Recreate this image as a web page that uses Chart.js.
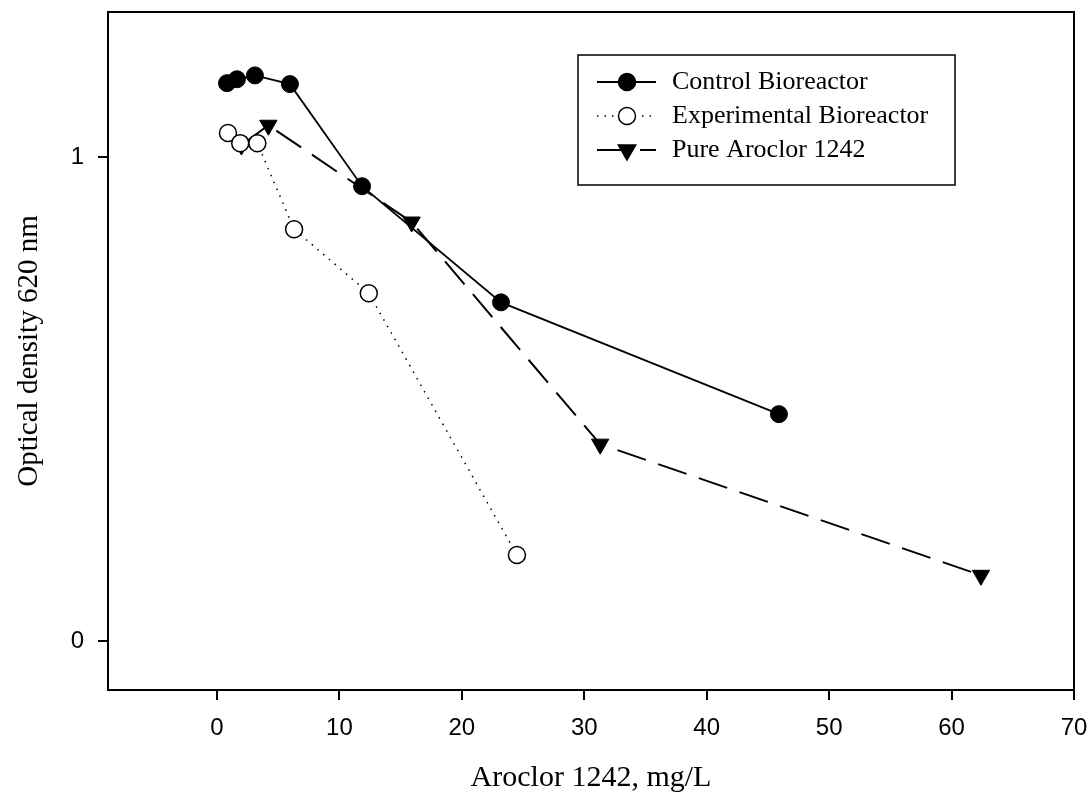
<!DOCTYPE html>
<html>
<head>
<meta charset="utf-8">
<script src="https://cdn.jsdelivr.net/npm/chart.js@4/dist/chart.umd.min.js"></script>
<style>
  html, body { margin: 0; padding: 0; background: #fff; }
  #wrap { width: 1091px; height: 796px; position: relative; }
</style>
</head>
<body>
<div id="wrap"><canvas id="chart"></canvas></div>
<script>
// Aroclor 1242 concentration (mg/L) vs optical density at 620 nm
const controlX = [0.82, 1.63, 3.1, 5.96, 11.85, 23.2, 45.9];
const controlY = [1.153, 1.161, 1.169, 1.151, 0.94, 0.70, 0.469];

const experimentalX = [0.9, 1.9, 3.3, 6.3, 12.4, 24.5];
const experimentalY = [1.05, 1.029, 1.029, 0.851, 0.719, 0.178];

const pureX = [2.0, 4.2, 15.9, 31.3, 62.4];
const pureY = [1.025, 1.066, 0.866, 0.407, 0.136];

const xTicks = [0, 10, 20, 30, 40, 50, 60, 70];
const yTicks = [0, 1];

const seriesNames = ['Control Bioreactor', 'Experimental Bioreactor', 'Pure Aroclor 1242'];

const toPoints = (xs, ys) => xs.map((x, i) => ({ x: x, y: ys[i] }));

const serif = '"Liberation Serif", "Times New Roman", serif';
const sans = '"Liberation Sans", Arial, sans-serif';

// frame around the plot area + legend box inside the plot
const framePlugin = {
  id: 'frame',
  afterDraw(chart) {
    const { ctx, chartArea } = chart;
    ctx.save();
    ctx.strokeStyle = '#000';
    ctx.lineWidth = 2;
    ctx.strokeRect(chartArea.left, chartArea.top, chartArea.right - chartArea.left, chartArea.bottom - chartArea.top);

    // legend
    const bx = 578, by = 55, bw = 377, bh = 130;
    ctx.fillStyle = '#fff';
    ctx.fillRect(bx, by, bw, bh);
    ctx.lineWidth = 1.5;
    ctx.strokeRect(bx, by, bw, bh);
    chart.data.datasets.forEach((ds, i) => {
      const y = by + 27 + i * 34;
      ctx.save();
      ctx.strokeStyle = '#000';
      ctx.lineWidth = ds.borderWidth;
      ctx.setLineDash(ds.borderDash || []);
      ctx.beginPath();
      ctx.moveTo(bx + 19, y);
      ctx.lineTo(bx + 78, y);
      ctx.stroke();
      ctx.setLineDash([]);
      ctx.fillStyle = ds.pointBackgroundColor;
      ctx.strokeStyle = '#000';
      ctx.lineWidth = 1.5;
      Chart.helpers.drawPoint(ctx, {
        pointStyle: ds.pointStyle,
        rotation: ds.pointRotation || 0,
        radius: ds.pointRadius,
        borderWidth: 1.5
      }, bx + 49, y);
      ctx.restore();
      ctx.fillStyle = '#000';
      ctx.font = '26px ' + serif;
      ctx.textBaseline = 'middle';
      ctx.fillText(ds.label, bx + 94, y);
    });
    ctx.restore();
  }
};

new Chart(document.getElementById('chart'), {
  type: 'scatter',
  data: {
    datasets: [
      {
        label: seriesNames[0],
        data: toPoints(controlX, controlY),
        showLine: true,
        borderColor: '#000',
        borderWidth: 1.8,
        pointStyle: 'circle',
        pointRadius: 8.5,
        pointBackgroundColor: '#000',
        pointBorderColor: '#000',
        pointBorderWidth: 1
      },
      {
        label: seriesNames[1],
        data: toPoints(experimentalX, experimentalY),
        showLine: true,
        borderColor: '#000',
        borderWidth: 1.5,
        borderDash: [1.5, 6],
        pointStyle: 'circle',
        pointRadius: 8.5,
        pointBackgroundColor: '#fff',
        pointBorderColor: '#000',
        pointBorderWidth: 1.5
      },
      {
        label: seriesNames[2],
        data: toPoints(pureX, pureY),
        showLine: true,
        borderColor: '#000',
        borderWidth: 2,
        borderDash: [30, 13],
        pointStyle: 'triangle',
        pointRotation: 180,
        pointRadius: 10,
        pointBackgroundColor: '#000',
        pointBorderColor: '#000',
        pointBorderWidth: 1
      }
    ]
  },
  options: {
    responsive: true,
    maintainAspectRatio: false,
    animation: false,
    layout: { padding: { top: 12, right: 17, left: 0, bottom: 0 } },
    plugins: {
      legend: { display: false },
      tooltip: { enabled: false }
    },
    scales: {
      x: {
        type: 'linear',
        min: -8.9,
        max: 70,
        afterBuildTicks: (scale) => { scale.ticks = xTicks.map((v) => ({ value: v })); },
        afterFit: (scale) => {
          scale.height = 106;
          scale.paddingLeft = 0;
          scale.paddingRight = 0;
        },
        grid: { drawOnChartArea: false, drawTicks: true, tickLength: 10, color: '#000', lineWidth: 2 },
        border: { display: true, color: '#000', width: 2 },
        ticks: { color: '#000', font: { family: sans, size: 24 }, padding: 14, maxRotation: 0 },
        title: { display: true, text: 'Aroclor 1242, mg/L', color: '#000', font: { family: serif, size: 30 }, padding: { top: 0, bottom: 0 } }
      },
      y: {
        type: 'linear',
        min: -0.101,
        max: 1.3,
        afterBuildTicks: (scale) => { scale.ticks = yTicks.map((v) => ({ value: v })); },
        afterFit: (scale) => {
          scale.width = 108;
          scale.paddingTop = 0;
          scale.paddingBottom = 0;
        },
        grid: { drawOnChartArea: false, drawTicks: true, tickLength: 10, color: '#000', lineWidth: 2 },
        border: { display: true, color: '#000', width: 2 },
        ticks: { color: '#000', font: { family: sans, size: 24 }, padding: 14 },
        title: { display: true, text: 'Optical density 620 nm', color: '#000', font: { family: serif, size: 29 }, padding: { top: 12, bottom: 0 } }
      }
    }
  },
  plugins: [framePlugin]
});
</script>
</body>
</html>
